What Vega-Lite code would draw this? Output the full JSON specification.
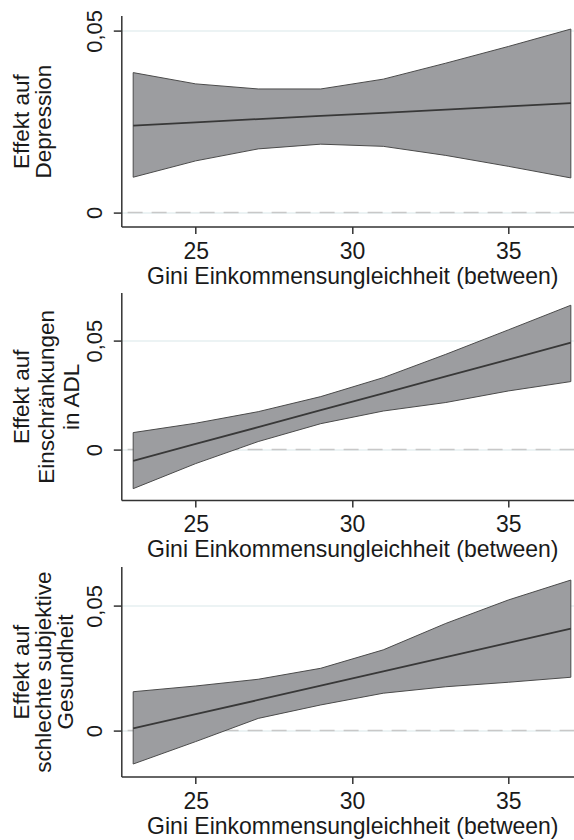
{
  "$schema": "https://vega.github.io/schema/vega-lite/v6.json",
  "background": "white",
  "padding": {"left": 10.3, "top": 8.6, "right": 0, "bottom": 0},
  "spacing": 4,
  "config": {
    "view": {"stroke": null},
    "font": "Liberation Sans",
    "axis": {
      "labelFont": "Liberation Sans",
      "titleFont": "Liberation Sans",
      "titleFontWeight": "normal",
      "labelColor": "#1a1a1a",
      "titleColor": "#1a1a1a",
      "domainColor": "#333333",
      "domainWidth": 1.5,
      "tickColor": "#333333",
      "tickWidth": 1.5,
      "gridColor": "#e6eff1",
      "gridWidth": 1.5
    },
    "axisX": {
      "grid": false,
      "labelFontSize": 23,
      "titleFontSize": 23,
      "tickSize": 7,
      "labelPadding": 7,
      "titleBaseline": "alphabetic"
    },
    "axisY": {
      "grid": true,
      "labelFontSize": 22,
      "titleFontSize": 22.5,
      "labelAngle": -90,
      "labelAlign": "center",
      "labelBaseline": "alphabetic",
      "labelPadding": 12,
      "tickSize": 8,
      "titleAngle": -90,
      "titleBaseline": "top",
      "titleAlign": "center"
    }
  },
  "datasets": {
    "dep": [
      {"gini": 23, "lo": 0.0097, "hi": 0.0385, "est": 0.0239},
      {"gini": 25, "lo": 0.0142, "hi": 0.0354, "est": 0.0248},
      {"gini": 27, "lo": 0.0175, "hi": 0.0340, "est": 0.0257},
      {"gini": 29, "lo": 0.0188, "hi": 0.0340, "est": 0.0266},
      {"gini": 31, "lo": 0.0182, "hi": 0.0367, "est": 0.0274},
      {"gini": 33, "lo": 0.0157, "hi": 0.0411, "est": 0.0283},
      {"gini": 35, "lo": 0.0127, "hi": 0.0457, "est": 0.0292},
      {"gini": 37, "lo": 0.0095, "hi": 0.0505, "est": 0.0301}
    ],
    "adl": [
      {"gini": 23, "lo": -0.0179, "hi": 0.0078, "est": -0.0052},
      {"gini": 25, "lo": -0.0064, "hi": 0.0121, "est": 0.0026},
      {"gini": 27, "lo": 0.0037, "hi": 0.0174, "est": 0.0103},
      {"gini": 29, "lo": 0.0119, "hi": 0.0243, "est": 0.0181},
      {"gini": 31, "lo": 0.0177, "hi": 0.0330, "est": 0.0258},
      {"gini": 33, "lo": 0.0216, "hi": 0.0437, "est": 0.0336},
      {"gini": 35, "lo": 0.0269, "hi": 0.0549, "est": 0.0413},
      {"gini": 37, "lo": 0.0312, "hi": 0.0662, "est": 0.0491}
    ],
    "srh": [
      {"gini": 23, "lo": -0.0134, "hi": 0.0156, "est": 0.0009},
      {"gini": 25, "lo": -0.0044, "hi": 0.0179, "est": 0.0066},
      {"gini": 27, "lo": 0.0049, "hi": 0.0206, "est": 0.0123},
      {"gini": 29, "lo": 0.0103, "hi": 0.0250, "est": 0.0180},
      {"gini": 31, "lo": 0.0150, "hi": 0.0324, "est": 0.0238},
      {"gini": 33, "lo": 0.0176, "hi": 0.0430, "est": 0.0295},
      {"gini": 35, "lo": 0.0194, "hi": 0.0524, "est": 0.0352},
      {"gini": 37, "lo": 0.0214, "hi": 0.0604, "est": 0.0409}
    ],
    "refs": [{"v": 0}]
  },
  "vconcat": [
    {
      "width": 453.3, "height": 211,
      "data": {"name": "dep"},
      "layer": [
        {"data": {"name": "refs"}, "mark": {"type": "rule", "color": "#c8c8c8", "strokeWidth": 1.5, "strokeDash": [15, 9]}, "encoding": {"y": {"field": "v", "type": "quantitative"}}},
        {"mark": {"type": "area", "fill": "#9c9da0", "fillOpacity": 1, "stroke": "#4a4a4a", "strokeWidth": 1}, "encoding": {
          "x": {"field": "gini", "type": "quantitative", "scale": {"domain": [22.62, 37.12], "nice": false, "zero": false},
            "axis": {"values": [25, 30, 35], "title": "Gini Einkommensungleichheit (between)", "titleX": 231, "titleY": 57}},
          "y": {"field": "lo", "type": "quantitative", "scale": {"domain": [-0.0039, 0.0542], "nice": false, "zero": false},
            "axis": {"values": [0, 0.05], "labelExpr": "replace(toString(datum.value), '.', ',')", "title": ["Effekt auf", "Depression"], "titleLineHeight": 22, "titleX": -110.4, "titleY": 105.5}},
          "y2": {"field": "hi"}
        }},
        {"mark": {"type": "line", "color": "#383838", "strokeWidth": 1.8}, "encoding": {
          "x": {"field": "gini", "type": "quantitative"},
          "y": {"field": "est", "type": "quantitative"}
        }}
      ]
    },
    {
      "width": 453.3, "height": 207.4,
      "data": {"name": "adl"},
      "layer": [
        {"data": {"name": "refs"}, "mark": {"type": "rule", "color": "#c8c8c8", "strokeWidth": 1.5, "strokeDash": [15, 9]}, "encoding": {"y": {"field": "v", "type": "quantitative"}}},
        {"mark": {"type": "area", "fill": "#9c9da0", "fillOpacity": 1, "stroke": "#4a4a4a", "strokeWidth": 1}, "encoding": {
          "x": {"field": "gini", "type": "quantitative", "scale": {"domain": [22.62, 37.12], "nice": false, "zero": false},
            "axis": {"values": [25, 30, 35], "title": "Gini Einkommensungleichheit (between)", "titleX": 231, "titleY": 57}},
          "y": {"field": "lo", "type": "quantitative", "scale": {"domain": [-0.0231, 0.0720], "nice": false, "zero": false},
            "axis": {"values": [0, 0.05], "labelExpr": "replace(toString(datum.value), '.', ',')", "title": ["Effekt auf", "Einschränkungen", "in ADL"], "titleLineHeight": 25, "titleX": -110.4, "titleY": 103.7}},
          "y2": {"field": "hi"}
        }},
        {"mark": {"type": "line", "color": "#383838", "strokeWidth": 1.8}, "encoding": {
          "x": {"field": "gini", "type": "quantitative"},
          "y": {"field": "est", "type": "quantitative"}
        }}
      ]
    },
    {
      "width": 453.3, "height": 210,
      "data": {"name": "srh"},
      "layer": [
        {"data": {"name": "refs"}, "mark": {"type": "rule", "color": "#c8c8c8", "strokeWidth": 1.5, "strokeDash": [15, 9]}, "encoding": {"y": {"field": "v", "type": "quantitative"}}},
        {"mark": {"type": "area", "fill": "#9c9da0", "fillOpacity": 1, "stroke": "#4a4a4a", "strokeWidth": 1}, "encoding": {
          "x": {"field": "gini", "type": "quantitative", "scale": {"domain": [22.62, 37.12], "nice": false, "zero": false},
            "axis": {"values": [25, 30, 35], "title": "Gini Einkommensungleichheit (between)", "titleX": 231, "titleY": 57}},
          "y": {"field": "lo", "type": "quantitative", "scale": {"domain": [-0.01845, 0.0658], "nice": false, "zero": false},
            "axis": {"values": [0, 0.05], "labelExpr": "replace(toString(datum.value), '.', ',')", "title": ["Effekt auf", "schlechte subjektive", "Gesundheit"], "titleLineHeight": 22, "titleX": -110.4, "titleY": 105}},
          "y2": {"field": "hi"}
        }},
        {"mark": {"type": "line", "color": "#383838", "strokeWidth": 1.8}, "encoding": {
          "x": {"field": "gini", "type": "quantitative"},
          "y": {"field": "est", "type": "quantitative"}
        }}
      ]
    }
  ]
}
